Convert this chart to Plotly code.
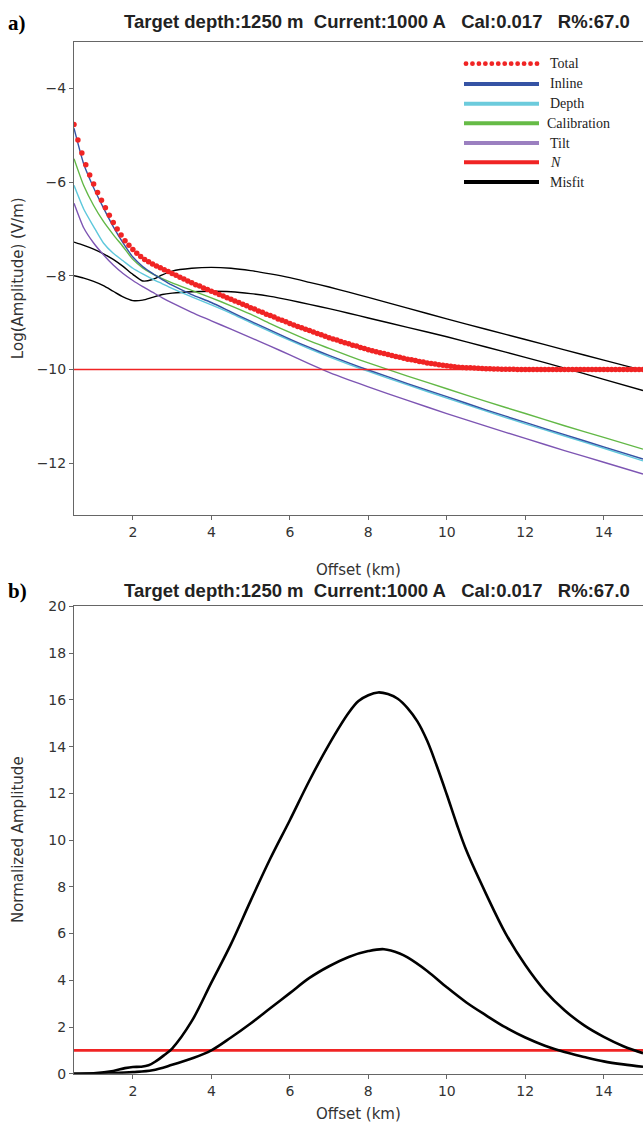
import plotly.graph_objects as go

# ---------------- Panel a data ----------------
comp_x = [0.5, 0.75, 1.0, 1.25, 1.5, 1.75, 2.0, 2.25, 2.5, 2.75, 3.0, 3.5, 4.0, 4.5,
          5.0, 5.5, 6.0, 6.5, 7.0, 7.5, 8.0, 9.0, 10.0, 11.0, 12.0, 13.0, 14.0, 15.0]
inline = [-4.85, -5.62, -6.12, -6.55, -6.95, -7.30, -7.60, -7.80, -7.95, -8.08, -8.20, -8.40, -8.57, -8.77,
          -8.97, -9.16, -9.35, -9.53, -9.70, -9.86, -10.01, -10.30, -10.58, -10.86, -11.13, -11.39, -11.65, -11.91]
depth = [-6.07, -6.58, -6.95, -7.30, -7.52, -7.68, -7.84, -7.96, -8.07, -8.17, -8.27, -8.45, -8.62, -8.80,
         -9.00, -9.19, -9.38, -9.56, -9.73, -9.89, -10.04, -10.33, -10.61, -10.89, -11.16, -11.42, -11.68, -11.95]
calibration = [-5.50, -6.08, -6.50, -6.84, -7.12, -7.38, -7.65, -7.83, -7.96, -8.06, -8.15, -8.31, -8.47, -8.64,
               -8.82, -9.02, -9.21, -9.39, -9.55, -9.71, -9.86, -10.14, -10.41, -10.68, -10.94, -11.20, -11.45, -11.70]
tilt = [-6.45, -6.98, -7.30, -7.55, -7.77, -7.95, -8.10, -8.23, -8.35, -8.47, -8.58, -8.78, -8.96, -9.14,
        -9.32, -9.50, -9.69, -9.88, -10.06, -10.22, -10.37, -10.66, -10.94, -11.21, -11.47, -11.73, -11.98, -12.23]
misfit_1 = [-7.28, -7.35, -7.43, -7.53, -7.65, -7.80, -7.97, -8.11, -8.08, -7.98, -7.90, -7.84, -7.82, -7.84,
            -7.89, -7.96, -8.04, -8.14, -8.24, -8.35, -8.46, -8.69, -8.92, -9.14, -9.36, -9.58, -9.80, -10.02]
misfit_2 = [-8.00, -8.05, -8.12, -8.21, -8.33, -8.45, -8.53, -8.52, -8.46, -8.40, -8.37, -8.34, -8.33, -8.34,
            -8.38, -8.44, -8.52, -8.61, -8.70, -8.80, -8.90, -9.10, -9.30, -9.52, -9.74, -9.97, -10.21, -10.45]
noise_x = [0.5, 15.0]
noise_a = [-10.0, -10.0]

total_x = [0.5, 0.6, 0.7, 0.8, 0.9, 1.0, 1.1, 1.2, 1.3, 1.4, 1.5, 1.6, 1.7, 1.8, 1.9,
           2.0, 2.1, 2.2, 2.3, 2.4, 2.5, 2.6, 2.7, 2.8, 2.9, 3.0, 3.1, 3.2, 3.3, 3.4,
           3.5, 3.6, 3.7, 3.8, 3.9, 4.0, 4.1, 4.2, 4.3, 4.4, 4.5, 4.6, 4.7, 4.8, 4.9,
           5.0, 5.1, 5.2, 5.3, 5.4, 5.5, 5.6, 5.7, 5.8, 5.9, 6.0, 6.1, 6.2, 6.3, 6.4,
           6.5, 6.6, 6.7, 6.8, 6.9, 7.0, 7.1, 7.2, 7.3, 7.4, 7.5, 7.6, 7.7, 7.8, 7.9,
           8.0, 8.1, 8.2, 8.3, 8.4, 8.5, 8.6, 8.7, 8.8, 8.9, 9.0, 9.1, 9.2, 9.3, 9.4,
           9.5, 9.6, 9.7, 9.8, 9.9, 10.0, 10.1, 10.2, 10.3, 10.4, 10.5, 10.6, 10.7, 10.8, 10.9,
           11.0, 11.1, 11.2, 11.3, 11.4, 11.5, 11.6, 11.7, 11.8, 11.9, 12.0, 12.1, 12.2, 12.3, 12.4,
           12.5, 12.6, 12.7, 12.8, 12.9, 13.0, 13.1, 13.2, 13.3, 13.4, 13.5, 13.6, 13.7, 13.8, 13.9,
           14.0, 14.1, 14.2, 14.3, 14.4, 14.5, 14.6, 14.7, 14.8, 14.9, 15.0]
total = [-4.77, -5.10, -5.38, -5.63, -5.85, -6.04, -6.22, -6.39, -6.55, -6.71, -6.86, -7.00, -7.13, -7.25, -7.35,
         -7.44, -7.52, -7.59, -7.65, -7.70, -7.75, -7.79, -7.83, -7.87, -7.91, -7.95, -7.99, -8.03, -8.07, -8.11,
         -8.15, -8.19, -8.22, -8.26, -8.29, -8.33, -8.36, -8.40, -8.43, -8.47, -8.50, -8.54, -8.57, -8.61, -8.64,
         -8.68, -8.71, -8.75, -8.78, -8.82, -8.85, -8.88, -8.92, -8.95, -8.98, -9.02, -9.05, -9.08, -9.11, -9.14,
         -9.17, -9.20, -9.23, -9.26, -9.29, -9.32, -9.35, -9.37, -9.40, -9.43, -9.45, -9.48, -9.50, -9.53, -9.55,
         -9.58, -9.60, -9.62, -9.64, -9.66, -9.68, -9.70, -9.72, -9.74, -9.76, -9.78, -9.79, -9.81, -9.83, -9.84,
         -9.86, -9.87, -9.88, -9.90, -9.91, -9.92, -9.93, -9.94, -9.95, -9.955, -9.96, -9.965, -9.97, -9.975, -9.98,
         -9.983, -9.986, -9.989, -9.991, -9.993, -9.995, -9.996, -9.997, -9.998, -9.999, -10.0, -10.0, -10.0, -10.0, -10.0,
         -10.0, -10.0, -10.0, -10.0, -10.0, -10.0, -10.0, -10.0, -10.0, -10.0, -10.0, -10.0, -10.0, -10.0, -10.0,
         -10.0, -10.0, -10.0, -10.0, -10.0, -10.0, -10.0, -10.0, -10.0, -10.0, -10.0]

# ---------------- Panel b data ----------------
norm_x_big = [0.5, 1.0, 1.5, 1.8, 2.0, 2.2, 2.4, 2.6, 2.8, 3.0, 3.5, 4.0, 4.5, 5.0, 5.5, 6.0, 6.5, 7.0,
              7.5, 7.75, 8.0, 8.25, 8.5, 8.75, 9.0, 9.25, 9.5, 9.75, 10.0, 10.25, 10.5, 11.0, 11.5, 12.0,
              12.5, 13.0, 13.5, 14.0, 14.5, 15.0]
norm_big = [0.0, 0.02, 0.12, 0.24, 0.29, 0.30, 0.36, 0.55, 0.80, 1.08, 2.25, 3.90, 5.55, 7.40, 9.20, 10.85, 12.55, 14.10,
            15.45, 15.95, 16.20, 16.32, 16.25, 16.05, 15.65, 15.08, 14.25, 13.15, 11.95, 10.70, 9.55, 7.70, 6.00, 4.65,
            3.55, 2.72, 2.07, 1.58, 1.18, 0.88]
norm_x_small = [0.5, 1.0, 1.5, 2.0, 2.5, 3.0, 3.5, 4.0, 4.5, 5.0, 5.5, 6.0, 6.5, 7.0, 7.5, 8.0, 8.4, 8.8,
                9.0, 9.5, 10.0, 10.5, 11.0, 11.5, 12.0, 12.5, 13.0, 13.5, 14.0, 14.5, 15.0]
norm_small = [0.0, 0.01, 0.03, 0.07, 0.15, 0.38, 0.65, 1.00, 1.55, 2.15, 2.80, 3.45, 4.10, 4.60, 5.00, 5.25, 5.33, 5.15,
              4.98, 4.40, 3.70, 3.05, 2.50, 1.98, 1.55, 1.20, 0.93, 0.72, 0.53, 0.40, 0.30]
noise_b = [1.0, 1.0]

title_text = "Target depth:1250 m\u00a0\u00a0Current:1000 A\u00a0\u00a0\u00a0Cal:0.017\u00a0\u00a0\u00a0R%:67.0"

legend_names = ["Total", "Inline", "Depth", "Calibration", "Tilt", "<i>N</i>", "Misfit"]
legend_colors = ["#f02424", "#3553a4", "#6ccbdc", "#66bb46", "#9b7fc0", "#f02424", "#000000"]

# ---------------- Figure ----------------
W, H = 643, 1134
fig = go.Figure()

def px_x(p):
    return p / W

def px_y(p):
    return 1 - p / H

C_BLUE = "#3553a4"
C_CYAN = "#5ec8dc"
C_GREEN = "#62b846"
C_PURPLE = "#7d55b3"
C_RED = "#f02424"

lw = 1.4
spl = dict(shape="spline", smoothing=0.6)
fig.add_trace(go.Scatter(x=comp_x, y=misfit_1, mode="lines", line=dict(color="black", width=lw, **spl), xaxis="x", yaxis="y"))
fig.add_trace(go.Scatter(x=comp_x, y=misfit_2, mode="lines", line=dict(color="black", width=lw, **spl), xaxis="x", yaxis="y"))
fig.add_trace(go.Scatter(x=comp_x, y=tilt, mode="lines", line=dict(color=C_PURPLE, width=lw, **spl), xaxis="x", yaxis="y"))
fig.add_trace(go.Scatter(x=comp_x, y=depth, mode="lines", line=dict(color=C_CYAN, width=lw, **spl), xaxis="x", yaxis="y"))
fig.add_trace(go.Scatter(x=comp_x, y=calibration, mode="lines", line=dict(color=C_GREEN, width=lw, **spl), xaxis="x", yaxis="y"))
fig.add_trace(go.Scatter(x=comp_x, y=inline, mode="lines", line=dict(color=C_BLUE, width=lw, **spl), xaxis="x", yaxis="y"))
fig.add_trace(go.Scatter(x=noise_x, y=noise_a, mode="lines", line=dict(color=C_RED, width=1.4), xaxis="x", yaxis="y"))
fig.add_trace(go.Scatter(x=total_x, y=total, mode="markers",
                         marker=dict(color=C_RED, size=5.5, line=dict(width=0)), xaxis="x", yaxis="y"))

spl_b = dict(shape="spline", smoothing=1.0)
fig.add_trace(go.Scatter(x=noise_x, y=noise_b, mode="lines", line=dict(color=C_RED, width=2.6), xaxis="x2", yaxis="y2"))
fig.add_trace(go.Scatter(x=norm_x_big, y=norm_big, mode="lines", line=dict(color="black", width=2.6, **spl_b), xaxis="x2", yaxis="y2"))
fig.add_trace(go.Scatter(x=norm_x_small, y=norm_small, mode="lines", line=dict(color="black", width=2.6, **spl_b), xaxis="x2", yaxis="y2"))

tickfont = dict(family="DejaVu Sans", size=14, color="#333333")
axcommon = dict(showgrid=False, zeroline=False, showline=True, linecolor="#666666", linewidth=1,
                ticks="outside", ticklen=4, tickcolor="#666666", tickwidth=1, tickfont=tickfont)

x0 = px_x(74)
fig.update_layout(
    width=W, height=H, margin=dict(l=0, r=0, t=0, b=0), autosize=False,
    paper_bgcolor="white", plot_bgcolor="white", showlegend=False,
    xaxis=dict(domain=[x0, 1], range=[0.5, 15], anchor="y", mirror=True,
               tickvals=[2, 4, 6, 8, 10, 12, 14], **axcommon),
    yaxis=dict(domain=[px_y(514), px_y(34)], range=[-13.1, -3.0], anchor="x",
               tickvals=[-12, -10, -8, -6, -4], **axcommon),
    xaxis2=dict(domain=[x0, 1], range=[0.5, 15], anchor="y2", mirror=True,
                tickvals=[2, 4, 6, 8, 10, 12, 14], **axcommon),
    yaxis2=dict(domain=[px_y(1081), px_y(607)], range=[0, 20], anchor="x2",
                tickvals=[0, 2, 4, 6, 8, 10, 12, 14, 16, 18, 20], **axcommon),
)

ann = []
titlefont = dict(family="Liberation Sans Narrow, Liberation Sans, Arial", size=18.5, color="#222222")
for yy in (14, 591):
    ann.append(dict(x=px_x(377), y=px_y(yy), xref="paper", yref="paper", text="<b>" + title_text + "</b>",
                    showarrow=False, font=titlefont, xanchor="center", yanchor="middle"))
ann.append(dict(x=px_x(6), y=px_y(15), xref="paper", yref="paper", text="<b>a)</b>", showarrow=False,
                font=dict(family="Liberation Serif", size=21, color="black"), xanchor="left", yanchor="middle"))
ann.append(dict(x=px_x(6), y=px_y(591), xref="paper", yref="paper", text="<b>b)</b>", showarrow=False,
                font=dict(family="Liberation Serif", size=21, color="black"), xanchor="left", yanchor="middle"))
axfont = dict(family="DejaVu Sans", size=15, color="#333333")
ann.append(dict(x=px_x(358), y=px_y(570), xref="paper", yref="paper", text="Offset (km)", showarrow=False,
                font=axfont, xanchor="center", yanchor="middle"))
ann.append(dict(x=px_x(358), y=px_y(1122), xref="paper", yref="paper", text="Offset (km)", showarrow=False,
                font=axfont, xanchor="center", yanchor="middle"))
ann.append(dict(x=px_x(18), y=px_y(274), xref="paper", yref="paper", text="Log(Amplitude) (V/m)", showarrow=False,
                font=axfont, textangle=-90, xanchor="center", yanchor="middle"))
ann.append(dict(x=px_x(18), y=px_y(844), xref="paper", yref="paper", text="Normalized Amplitude", showarrow=False,
                font=axfont, textangle=-90, xanchor="center", yanchor="middle"))

# legend (manual)
shapes = []
row_y = [56.5, 77, 97, 117, 137, 156.5, 176.5]
lx0, lx1 = 464, 539
for i, (name, col) in enumerate(zip(legend_names, legend_colors)):
    yy = row_y[i]
    if i == 0:
        n = 12
        for k in range(n):
            cx = lx0 + 2 + k * (lx1 - lx0 - 4) / (n - 1)
            shapes.append(dict(type="circle", xref="paper", yref="paper",
                               x0=px_x(cx - 2.4), x1=px_x(cx + 2.4), y0=px_y(yy + 2.4), y1=px_y(yy - 2.4),
                               fillcolor=col, line=dict(width=0)))
    else:
        shapes.append(dict(type="line", xref="paper", yref="paper", x0=px_x(lx0), x1=px_x(lx1),
                           y0=px_y(yy), y1=px_y(yy), line=dict(color=col, width=4)))
    tx = 545 if name == "Calibration" else 547.5
    ann.append(dict(x=px_x(tx), y=px_y(yy), xref="paper", yref="paper", text=name, showarrow=False,
                    font=dict(family="Liberation Serif", size=14, color="#222222"), xanchor="left", yanchor="middle"))

fig.update_layout(annotations=ann, shapes=shapes)
fig.write_html(
    "out.html",
    config={"responsive": False, "displayModeBar": False},
    post_script="document.body.style.margin='0';document.body.style.padding='0';document.body.style.overflow='hidden';",
)
